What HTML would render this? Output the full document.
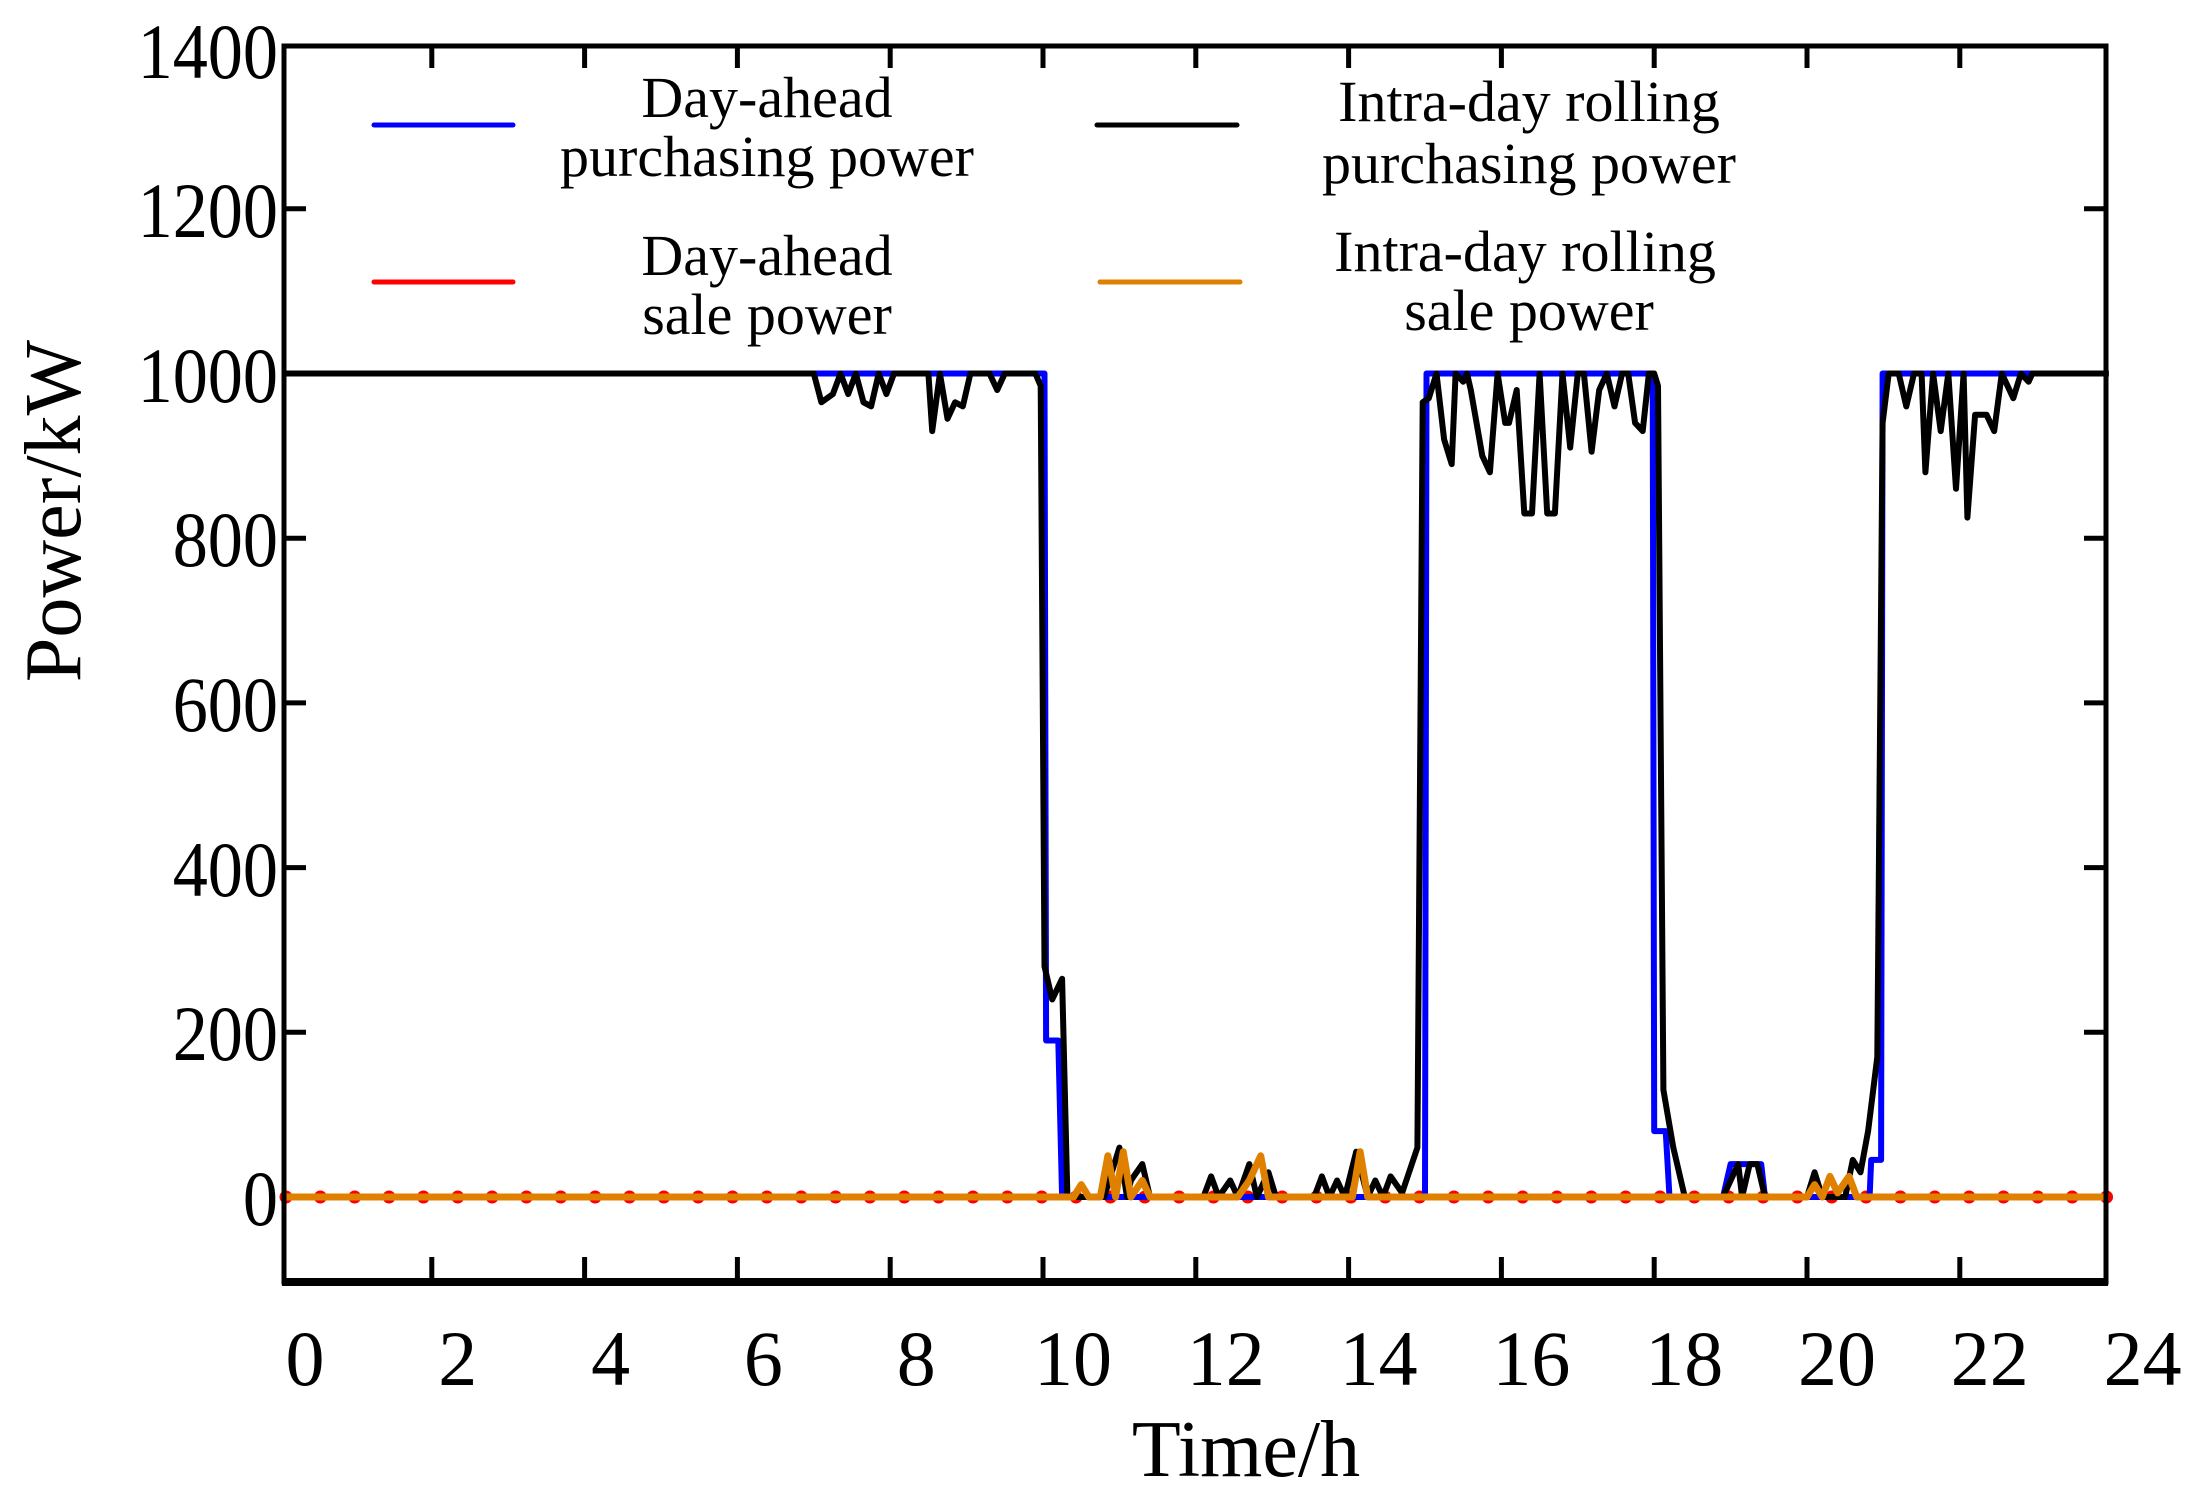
<!DOCTYPE html>
<html><head><meta charset="utf-8">
<style>
html,body{margin:0;padding:0;background:#fff;}
svg{display:block;}
text{font-family:"Liberation Serif",serif;fill:#000;}
</style></head>
<body>
<svg id="s" width="2196" height="1498" viewBox="0 0 2196 1498" xmlns="http://www.w3.org/2000/svg">
<rect width="2196" height="1498" fill="#fff"/>
<g id="data"></g>
<rect x="284" y="46" width="1822" height="1236" fill="none" stroke="#000" stroke-width="5"/>
<line x1="282" y1="1282" x2="2108" y2="1282" stroke="#000" stroke-width="8"/>
<g id="ticks" stroke="#000" stroke-width="5"></g>
<g font-size="78" text-anchor="end">
<text x="278" y="78" transform="translate(278 0) scale(0.9 1) translate(-278 0)">1400</text>
<text x="278" y="237" transform="translate(278 0) scale(0.9 1) translate(-278 0)">1200</text>
<text x="278" y="402" transform="translate(278 0) scale(0.9 1) translate(-278 0)">1000</text>
<text x="278" y="566" transform="translate(278 0) scale(0.9 1) translate(-278 0)">800</text>
<text x="278" y="731" transform="translate(278 0) scale(0.9 1) translate(-278 0)">600</text>
<text x="278" y="896" transform="translate(278 0) scale(0.9 1) translate(-278 0)">400</text>
<text x="278" y="1060" transform="translate(278 0) scale(0.9 1) translate(-278 0)">200</text>
<text x="278" y="1225" transform="translate(278 0) scale(0.9 1) translate(-278 0)">0</text>
</g>
<g id="xl" font-size="78" text-anchor="middle"></g>
<text x="1246" y="1476" font-size="80" text-anchor="middle">Time/h</text>
<text transform="translate(80 511) rotate(-90)" font-size="80" text-anchor="middle">Power/kW</text>
<g stroke-width="5" stroke-linecap="round">
<line x1="374" y1="125" x2="513" y2="125" stroke="#0000ff"/>
<line x1="374" y1="282" x2="513" y2="282" stroke="#ff0000"/>
<line x1="1097" y1="125" x2="1237" y2="125" stroke="#000"/>
<line x1="1100" y1="282" x2="1240" y2="282" stroke="#e08000"/>
</g>
<g font-size="58" text-anchor="middle">
<text x="767" y="117">Day-ahead</text>
<text x="767" y="176">purchasing power</text>
<text x="767" y="275">Day-ahead</text>
<text x="767" y="334">sale power</text>
<text x="1529" y="121">Intra-day  rolling</text>
<text x="1529" y="183">purchasing power</text>
<text x="1525" y="271">Intra-day  rolling</text>
<text x="1529" y="330">sale power</text>
</g>
</svg>
<script>
var NS="http://www.w3.org/2000/svg";
function X(h){return 279+76.4*h;}
function Y(v){return 1197-0.8235*v;}
function el(p,t,a){var e=document.createElementNS(NS,t);for(var k in a)e.setAttribute(k,a[k]);p.appendChild(e);return e;}
var tk=document.getElementById('ticks');
for(var h=2;h<=22;h+=2){el(tk,'line',{x1:X(h),y1:1282,x2:X(h),y2:1257});el(tk,'line',{x1:X(h),y1:46,x2:X(h),y2:68});}
for(var v=200;v<=1200;v+=200){el(tk,'line',{x1:284,y1:Y(v),x2:306,y2:Y(v)});el(tk,'line',{x1:2106,y1:Y(v),x2:2084,y2:Y(v)});}
var xl=document.getElementById('xl');
for(var h=0;h<=24;h+=2){var t=el(xl,'text',{x:X(h)+26+(h>=10?4:0),y:1385});t.textContent=h;}
var d=document.getElementById('data');
function path(pts,col,w){var s='';pts.forEach(function(p,i){s+=(i?'L':'M')+X(p[0]).toFixed(1)+' '+Y(p[1]).toFixed(1);});el(d,'path',{d:s,fill:'none',stroke:col,'stroke-width':w,'stroke-linejoin':'round'});}
var blue=[[0.05,1000],[10.02,1000],[10.04,190],[10.2,190],[10.25,0],[15.0,0],[15.02,1000],[17.98,1000],[18.0,80],[18.15,80],[18.2,0],[18.9,0],[19.0,40],[19.4,40],[19.45,0],[20.82,0],[20.84,45],[20.97,45],[20.99,1000],[23.95,1000]];
var black=[[0.05,1000],[7.0,1000],[7.1,965],[7.25,975],[7.35,1000],[7.45,975],[7.55,1000],[7.65,965],[7.75,960],[7.85,1000],[7.95,975],[8.05,1000],[8.5,1000],[8.55,930],[8.65,1000],[8.75,945],[8.85,965],[8.95,960],[9.05,1000],[9.3,1000],[9.4,980],[9.5,1000],[9.9,1000],[9.97,985],[10.02,280],[10.12,240],[10.25,265],[10.32,0],[10.8,0],[11.0,60],[11.1,0],[11.15,20],[11.3,40],[11.4,0],[12.1,0],[12.2,25],[12.3,0],[12.45,20],[12.55,0],[12.7,40],[12.8,0],[12.95,30],[13.05,0],[13.55,0],[13.65,25],[13.75,0],[13.85,20],[13.95,0],[14.1,55],[14.25,0],[14.35,20],[14.45,0],[14.55,25],[14.7,5],[14.9,60],[14.97,965],[15.05,970],[15.15,1000],[15.25,920],[15.35,890],[15.4,1000],[15.5,990],[15.55,1000],[15.6,980],[15.75,900],[15.85,880],[15.95,1000],[16.05,940],[16.1,940],[16.2,980],[16.3,830],[16.4,830],[16.5,1000],[16.6,830],[16.7,830],[16.8,1000],[16.9,910],[17.0,1000],[17.08,1000],[17.18,905],[17.28,980],[17.38,1000],[17.48,960],[17.58,1000],[17.66,1000],[17.75,940],[17.85,930],[17.93,1000],[18.0,1000],[18.05,985],[18.12,130],[18.25,60],[18.4,0],[18.9,0],[19.0,20],[19.1,40],[19.15,0],[19.25,40],[19.35,40],[19.45,0],[20.0,0],[20.1,30],[20.2,0],[20.5,0],[20.6,45],[20.7,30],[20.8,80],[20.92,170],[20.99,940],[21.07,1000],[21.2,1000],[21.3,960],[21.4,1000],[21.5,1000],[21.55,880],[21.65,1000],[21.75,930],[21.85,1000],[21.95,860],[22.05,1000],[22.1,825],[22.2,950],[22.35,950],[22.45,930],[22.55,1000],[22.7,970],[22.8,1000],[22.9,990],[22.95,1000],[23.95,1000]];
var orange=[[0.05,0],[10.4,0],[10.5,15],[10.6,0],[10.75,0],[10.85,50],[10.95,0],[11.05,55],[11.15,0],[11.3,20],[11.4,0],[12.55,0],[12.7,20],[12.85,50],[12.95,0],[14.05,0],[14.15,55],[14.25,0],[20.0,0],[20.1,15],[20.2,0],[20.3,25],[20.4,5],[20.55,25],[20.65,0],[23.95,0]];
path([[0.05,0],[23.95,0]],'#ff0000',5);
for(var x=286;x<=2108;x+=34.35){el(d,'circle',{cx:x,cy:Y(0),r:6.5,fill:'#ff0000'});}
path(blue,'#0000ff',6);
path(black,'#000',6);
path(orange,'#e08000',7);
</script>
</body></html>
